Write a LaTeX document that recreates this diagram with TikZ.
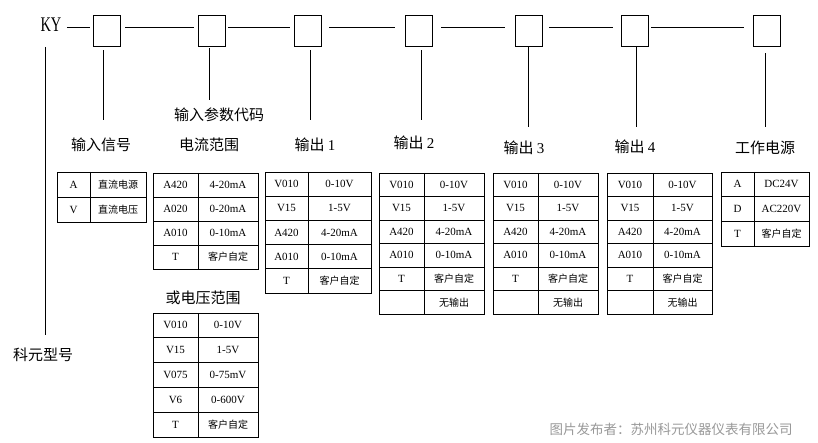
\documentclass[tikz,border=0pt]{standalone}
\usepackage{fontspec}
\setmainfont{Liberation Serif}
\newfontfamily\cjk{Noto Sans CJK SC}
\newcommand\kytab[8]{% name, x0, xdiv, x1, y0, rowh, nrows, rows
  \foreach \a/\b [count=\i] in {#8} {
    \node[tcell] (#1-\i-a) at ({(#2+#3)/2}, {#5+(\i-0.5)*#6}) {\a};
    \node[tcell] (#1-\i-b) at ({(#3+#4)/2}, {#5+(\i-0.5)*#6}) {\b};
  }
  \draw[tline] (#2,#5) rectangle (#4,{#5+#7*#6});
  \draw[tline] (#3,#5) -- (#3,{#5+#7*#6});
  \foreach \j in {1,...,#7} {
    \ifnum\j<#7 \draw[tline] (#2,{#5+\j*#6}) -- (#4,{#5+\j*#6}); \fi
  }
}
\begin{document}
\begin{tikzpicture}[x=1pt,y=-1pt,line width=0.8pt,
  box/.style={draw,minimum width=27pt,minimum height=31pt,inner sep=0pt},
  lab/.style={font=\cjk\fontsize{15}{15}\selectfont,inner sep=0pt},
  tcell/.style={font=\fontsize{11}{11}\selectfont,inner sep=0pt},
  tline/.style={line width=0.8pt},
  conn/.style={line width=0.8pt}]
\useasboundingbox (0,0) rectangle (818,443);
\fill[white] (0,0) rectangle (818,443);

% code boxes
\node[font=\fontsize{16}{16}\selectfont,inner sep=0pt] (ky) at (51,25) {\scalebox{0.9}[1.3]{KY}};
\node[box] (b1) at (106.5,31) {};
\node[box] (b2) at (211.5,31) {};
\node[box] (b3) at (308,31) {};
\node[box] (b4) at (418.5,31) {};
\node[box] (b5) at (528.5,31) {};
\node[box] (b6) at (634.5,31) {};
\node[box] (b7) at (766.5,31) {};

\draw[conn,shorten <=5pt,shorten >=3pt] ([yshift=4pt]ky.east |- b1) -- ([yshift=4pt]b1.west);
\draw[conn,shorten <=5pt,shorten >=3.5pt] ([yshift=4pt]b1.east) -- ([yshift=4pt]b2.west);
\draw[conn,shorten <=3pt,shorten >=4.5pt] ([yshift=4pt]b2.east) -- ([yshift=4pt]b3.west);
\draw[conn,shorten <=7.5pt,shorten >=10pt] ([yshift=4pt]b3.east) -- ([yshift=4pt]b4.west);
\draw[conn,shorten <=9pt,shorten >=10pt] ([yshift=4pt]b4.east) -- ([yshift=4pt]b5.west);
\draw[conn,shorten <=7pt,shorten >=8pt] ([yshift=4pt]b5.east) -- ([yshift=4pt]b6.west);
\draw[conn,shorten <=3pt,shorten >=9pt] ([yshift=4pt]b6.east) -- ([yshift=4pt]b7.west);

% labels
\node[lab] (l1) at (101,145) {输入信号};
\node[lab] (l2a) at (219,115) {输入参数代码};
\node[lab] (l2) at (209,145) {电流范围};
\node[lab] (l3) at (315,145) {输出 {\rmfamily 1}};
\node[lab] (l4) at (414,143) {输出 {\rmfamily 2}};
\node[lab] (l5) at (524,148) {输出 {\rmfamily 3}};
\node[lab] (l6) at (635,147) {输出 {\rmfamily 4}};
\node[lab] (l7) at (765,148) {工作电源};
\node[lab] (lv) at (203,298) {或电压范围};
\node[lab] (lk) at (43,355) {科元型号};

% vertical connectors
\coordinate (e0) at (45,335);
\coordinate (e1) at (103.5,120);
\coordinate (e2) at (209,100);
\coordinate (e3) at (310,120);
\coordinate (e4) at (421,120);
\coordinate (e5) at (528,127);
\coordinate (e6) at (636,127);
\coordinate (e7) at (765,127);
\draw[conn] (e0 |- b1.south) -- (e0);
\draw[conn] (b1.south -| e1) ++(0,3.5) -- (e1);
\draw[conn] (b2.south -| e2) ++(0,1.5) -- (e2);
\draw[conn] (b3.south -| e3) ++(0,3.5) -- (e3);
\draw[conn] (b4.south -| e4) ++(0,3.5) -- (e4);
\draw[conn] (b5.south -| e5) ++(0,0.5) -- (e5);
\draw[conn] (b6.south -| e6) ++(0,0.5) -- (e6);
\draw[conn] (b7.south -| e7) ++(0,6.5) -- (e7);

% tables
\kytab{tin}{57}{90}{146}{172}{25}{2}{A/{\cjk\fontsize{10}{10}\selectfont 直流电源}, V/{\cjk\fontsize{10}{10}\selectfont 直流电压}}
\kytab{tcur}{153}{198}{258}{173}{24}{4}{A420/4-20mA, A020/0-20mA, A010/0-10mA, T/{\cjk\fontsize{10}{10}\selectfont 客户自定}}
\kytab{to1}{265}{308}{371}{172}{24.2}{5}{V010/0-10V, V15/1-5V, A420/4-20mA, A010/0-10mA, T/{\cjk\fontsize{10}{10}\selectfont 客户自定}}
\kytab{to2}{379}{424}{484}{173}{23.5}{6}{V010/0-10V, V15/1-5V, A420/4-20mA, A010/0-10mA, T/{\cjk\fontsize{10}{10}\selectfont 客户自定}, {}/{\cjk\fontsize{10}{10}\selectfont 无输出}}
\kytab{to3}{493}{538}{598}{173}{23.5}{6}{V010/0-10V, V15/1-5V, A420/4-20mA, A010/0-10mA, T/{\cjk\fontsize{10}{10}\selectfont 客户自定}, {}/{\cjk\fontsize{10}{10}\selectfont 无输出}}
\kytab{to4}{607}{653}{712}{173}{23.5}{6}{V010/0-10V, V15/1-5V, A420/4-20mA, A010/0-10mA, T/{\cjk\fontsize{10}{10}\selectfont 客户自定}, {}/{\cjk\fontsize{10}{10}\selectfont 无输出}}
\kytab{tpw}{721}{754}{809}{172}{24.7}{3}{A/DC24V, D/AC220V, T/{\cjk\fontsize{10}{10}\selectfont 客户自定}}
\kytab{tvol}{153}{198}{258}{313}{24.8}{5}{V010/0-10V, V15/1-5V, V075/0-75mV, V6/0-600V, T/{\cjk\fontsize{10}{10}\selectfont 客户自定}}

% watermark
\node[font=\cjk\fontsize{13.5}{13.5}\selectfont,text=black!40,inner sep=0pt] (wm) at (671,429) {图片发布者：苏州科元仪器仪表有限公司};
\end{tikzpicture}
\end{document}
